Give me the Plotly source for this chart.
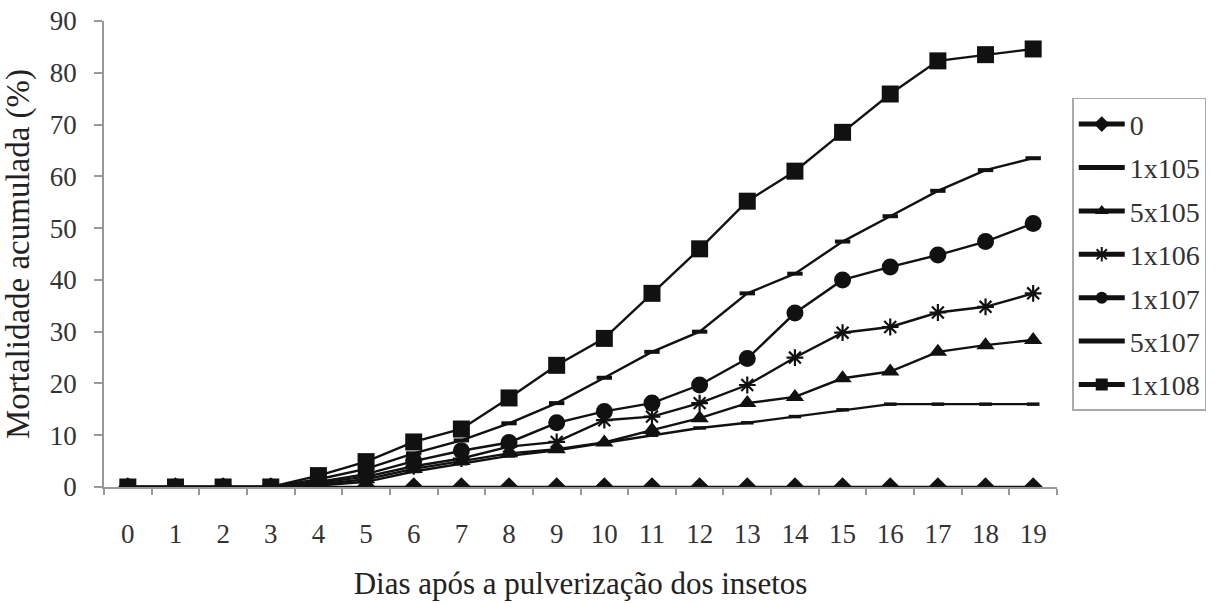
import plotly.graph_objects as go

days = list(range(20))
series_names = ["0", "1x105", "5x105", "1x106", "1x107", "5x107", "1x108"]
s_0 = [0] * 20
s_1x105 = [0, 0, 0, 0, 0.3, 1.0, 3.0, 4.5, 6.0, 7.1, 8.5, 10.0, 11.4, 12.4, 13.6, 14.9, 16.0, 16.0, 16.0, 16.0]
s_5x105 = [0, 0, 0, 0, 0.5, 1.5, 3.5, 5.0, 6.5, 7.3, 8.6, 11.0, 13.3, 16.2, 17.4, 21.0, 22.3, 26.1, 27.4, 28.4]
s_1x106 = [0, 0, 0, 0, 0.8, 2.0, 4.0, 5.5, 7.8, 8.7, 12.9, 13.6, 16.2, 19.7, 25.0, 29.8, 30.9, 33.7, 34.8, 37.4]
s_1x107 = [0, 0, 0, 0, 1.0, 2.5, 5.0, 7.0, 8.6, 12.4, 14.6, 16.2, 19.7, 24.8, 33.6, 40.0, 42.5, 44.8, 47.4, 50.9]
s_5x107 = [0, 0, 0, 0, 1.5, 3.5, 6.5, 9.0, 12.3, 16.2, 21.1, 26.1, 30.0, 37.4, 41.2, 47.4, 52.3, 57.2, 61.2, 63.5]
s_1x108 = [0, 0, 0, 0, 2.2, 4.9, 8.7, 11.2, 17.2, 23.5, 28.7, 37.4, 46.0, 55.2, 61.0, 68.5, 75.9, 82.3, 83.5, 84.6]
y_ticks = list(range(0, 100, 10))

values = [s_0, s_1x105, s_5x105, s_1x106, s_1x107, s_5x107, s_1x108]
markers = [
    dict(symbol="diamond", size=15, color="#111"),
    dict(symbol="line-ew-open", size=9, color="#111", line=dict(width=3.5, color="#111")),
    dict(symbol="triangle-up", size=16, color="#111"),
    dict(symbol="asterisk-open", size=14, color="#111", line=dict(width=2.2, color="#111")),
    dict(symbol="circle", size=17, color="#111"),
    dict(symbol="line-ew-open", size=11, color="#111", line=dict(width=4, color="#111")),
    dict(symbol="square", size=17, color="#111"),
]

fig = go.Figure()
for name, vals, mk in zip(series_names, values, markers):
    fig.add_trace(go.Scatter(
        x=days, y=vals, name=name, mode="lines+markers",
        line=dict(color="#111", width=2.4), marker=mk,
        legendgroup=name,
    ))

font_family = "Liberation Serif, DejaVu Serif, serif"
fig.update_layout(
    width=1224, height=603,
    margin=dict(l=104, r=167, t=21, b=116),
    paper_bgcolor="white", plot_bgcolor="white",
    font=dict(family=font_family, size=27, color="#333"),
    showlegend=True,
    legend=dict(
        x=1.016, xanchor="left", y=0.835, yanchor="top",
        bordercolor="#aaa", borderwidth=1.5,
        font=dict(size=28, color="#333"),
        tracegroupgap=4, traceorder="grouped",
        itemsizing="constant", itemwidth=46,
    ),
    xaxis=dict(
        range=[-0.5, 19.5], tickmode="array", tickvals=days, automargin=False,
        ticktext=[str(d) for d in days], ticks="", ticklabelstandoff=22,
        showline=True, linecolor="#999", linewidth=1.5, showgrid=False, zeroline=False,
        minor=dict(tick0=0.5, dtick=1, ticks="outside", ticklen=6, tickcolor="#999", tickwidth=1.5),
        title=dict(text="Dias após a pulverização dos insetos", standoff=24, font=dict(size=31, color="#222")),
    ),
    yaxis=dict(
        range=[0, 90], tickmode="array", tickvals=y_ticks, automargin=False,
        ticks="outside", ticklen=8, tickcolor="#999", tickwidth=1.5, ticklabelstandoff=12,
        showline=True, linecolor="#999", linewidth=1.5, showgrid=False, zeroline=False,
        title=dict(text="Mortalidade acumulada (%)", standoff=10, font=dict(size=33, color="#222")),
    ),
)

fig.write_html("out.html")
